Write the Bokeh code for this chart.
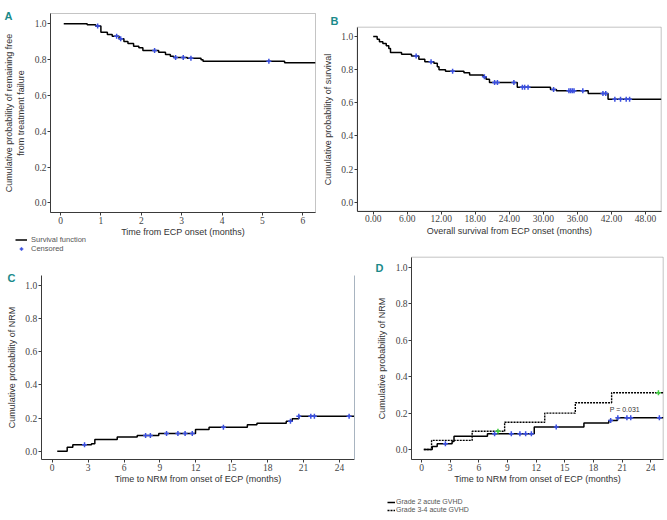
import numpy as np
from bokeh.plotting import figure
from bokeh.layouts import column, row
from bokeh.models import (FixedTicker, NumeralTickFormatter, Label, Legend,
                          LegendItem, Range1d, BoxAnnotation, LinearAxis)
from bokeh.embed import file_html
from bokeh.resources import INLINE

# ---------------- data ----------------
# Panel A: freedom from treatment failure (Kaplan-Meier)
a_time = [0.08, 0.66, 0.87, 1.00, 1.16, 1.28, 1.45, 1.57, 1.67, 1.81, 1.94, 2.04,
          2.43, 2.60, 2.72, 2.80, 3.14, 3.48, 3.53, 5.55, 6.31]
a_surv = [1.000, 0.994, 0.987, 0.953, 0.940, 0.931, 0.916, 0.901, 0.890, 0.875, 0.866,
          0.851, 0.841, 0.828, 0.819, 0.812, 0.808, 0.799, 0.791, 0.782, 0.782]
a_cens = [0.92, 1.39, 1.49, 2.33, 2.85, 3.04, 3.23, 5.16]

# Panel B: overall survival
b_time = [0.0, 0.7, 1.1, 1.7, 2.3, 2.75, 3.05, 5.0, 6.75, 8.05, 9.1, 10.7, 11.3, 11.6,
          12.75, 16.0, 17.0, 19.4, 19.9, 20.5, 25.4, 31.25, 32.3, 37.9, 41.4, 50.77]
b_surv = [1.000, 0.984, 0.968, 0.958, 0.944, 0.928, 0.903, 0.893, 0.883, 0.863, 0.847,
          0.839, 0.817, 0.799, 0.791, 0.781, 0.767, 0.757, 0.742, 0.722, 0.694, 0.680,
          0.672, 0.656, 0.622, 0.622]
b_cens = [7.57, 10.2, 14.0, 19.6, 21.4, 21.9, 24.8, 26.3, 26.7, 27.3, 31.8, 34.5, 34.8,
          35.1, 35.4, 36.95, 40.5, 41.0, 42.6, 43.6, 44.6, 45.2]

# Panel C: cumulative NRM
c_time = [0.42, 1.25, 1.72, 3.28, 3.56, 5.43, 7.1, 8.9, 11.97, 13.1, 16.3, 17.1, 19.55,
          20.05, 20.6, 25.25]
c_cum = [0.000, 0.024, 0.039, 0.045, 0.071, 0.085, 0.095, 0.107, 0.131, 0.145, 0.159,
         0.169, 0.181, 0.196, 0.211, 0.211]
c_cens = [2.7, 7.8, 8.2, 9.55, 10.5, 11.1, 11.7, 14.3, 19.9, 20.6, 21.6, 21.9, 24.8]

# Panel D: cumulative NRM by acute GVHD grade
d2_time = [0.24, 1.12, 1.64, 3.2, 3.4, 6.9, 11.8, 17.0, 19.6, 20.5, 25.3]
d2_cum = [0.000, 0.017, 0.031, 0.044, 0.073, 0.086, 0.123, 0.145, 0.160, 0.174, 0.174]
d2_cens = [2.5, 7.65, 9.4, 10.3, 10.9, 11.5, 14.1, 19.8, 20.55, 21.5, 21.9, 24.9]
d34_time = [0.24, 1.05, 5.3, 8.7, 12.9, 16.1, 19.9, 25.3]
d34_cum = [0.000, 0.050, 0.100, 0.150, 0.200, 0.257, 0.312, 0.312]
d34_cens = [8.0, 24.8]

y_ticks = [0.0, 0.2, 0.4, 0.6, 0.8, 1.0]
a_xticks = [0, 1, 2, 3, 4, 5, 6]
b_xticks = [0, 6, 12, 18, 24, 30, 36, 42, 48]
cd_xticks = [0, 3, 6, 9, 12, 15, 18, 21, 24]

# ---------------- styling ----------------
SANS = "Liberation Sans"
SERIF = "Liberation Serif"
TEAL = "#1a8a8a"
BLUE = "#3a4fe0"
GREEN = "#3ccc3c"
AXC = "#3a3a3a"


def step_at(times, vals, xs):
    t = np.asarray(times)
    v = np.asarray(vals)
    idx = np.searchsorted(t, np.asarray(xs), side="right") - 1
    return v[np.clip(idx, 0, len(v) - 1)]


def make_panel(w, h, box, dom, xticks, xfmt, xlabel, ylabel, boxed=True):
    # box: pixel edges (left, right, top, bottom) of the plotting box inside the canvas
    L, R, T, B = box
    x0, x1, y0, y1 = dom
    kx = (R - L) / (x1 - x0)
    ky = (B - T) / (y1 - y0)
    xr = Range1d(x0 - L / kx, x1 + (w - R) / kx)
    yr = Range1d(y0 - (h - B) / ky, y1 + T / ky)
    p = figure(width=w, height=h, x_range=xr, y_range=yr, min_border=0,
               output_backend="svg", toolbar_location=None)
    p.xgrid.visible = False
    p.ygrid.visible = False
    p.outline_line_color = None
    p.background_fill_color = "white"
    p.border_fill_color = "white"
    p.xaxis.ticker = FixedTicker(ticks=xticks)
    p.xaxis.formatter = NumeralTickFormatter(format=xfmt)
    p.yaxis.ticker = FixedTicker(ticks=y_ticks)
    p.yaxis.formatter = NumeralTickFormatter(format="0.0")
    p.xaxis.fixed_location = y0
    p.xaxis.bounds = (x0, x1)
    p.yaxis.fixed_location = x0
    p.yaxis.bounds = (y0, y1)
    for ax in (p.xaxis[0], p.yaxis[0]):
        ax.axis_line_color = AXC
        ax.axis_line_width = 1
        ax.major_tick_line_color = AXC
        ax.major_tick_out = 3
        ax.major_tick_in = 0
        ax.minor_tick_out = 0
        ax.minor_tick_in = 0
        ax.major_label_text_font = SERIF
        ax.major_label_text_font_size = "9.5px"
        ax.major_label_text_color = "#444444"
        ax.axis_label_text_font = SANS
        ax.axis_label_text_font_size = "9px"
        ax.axis_label_text_font_style = "normal"
        ax.axis_label_text_color = "#333333"
    p.xaxis.major_label_standoff = 1
    p.yaxis.major_label_standoff = 1
    p.xaxis.axis_label_standoff = 0
    p.yaxis.axis_label_standoff = 6
    p.xaxis.axis_label = xlabel
    p.yaxis.axis_label = ylabel
    if boxed:
        p.add_layout(BoxAnnotation(left=x0, right=x1, bottom=y0, top=y1,
                                   fill_color=None, line_color=AXC, line_width=1))
    return p


def letter(p, text, x, y):
    p.add_layout(Label(x=x, y=y, x_units="screen", y_units="screen", text=text,
                       text_font=SANS, text_font_size="11px", text_font_style="bold",
                       text_color=TEAL, text_baseline="alphabetic", text_align="left"))


def legend(p, items, loc, fs, gw, gap, ih):
    lg = Legend(items=items, location=loc, orientation="vertical",
                background_fill_alpha=0, border_line_alpha=0, padding=0, margin=0,
                spacing=0, label_text_font=SANS, label_text_font_size=fs,
                label_text_color="#555555", glyph_width=gw, glyph_height=ih,
                label_height=ih, label_standoff=gap)
    p.add_layout(lg)


# ---------------- Panel A ----------------
pA = make_panel(320, 254, (50, 315, 13, 212), (-0.248, 6.315, -0.054, 1.0575),
                a_xticks, "0", "Time from ECP onset (months)",
                "Cumulative probability of remaining free\nfrom treatment failure")
rA = pA.step(a_time, a_surv, mode="after", line_color="black", line_width=1.5)
cA = pA.scatter(a_cens, step_at(a_time, a_surv, a_cens), marker="cross", size=5,
                line_color=BLUE, line_width=1.5)
legend(pA, [LegendItem(label="Survival function", renderers=[rA]),
            LegendItem(label="Censored", renderers=[cA])], (15, 1.5), "7.5px", 12, 4, 9)
letter(pA, "A", 4, 239)

# ---------------- Panel B ----------------
pB = make_panel(347, 254, (36.7, 340.7, 26.7, 210.7), (-2.82, 50.77, -0.054, 1.056),
                b_xticks, "0.00", "Overall survival from ECP onset (months)",
                "Cumulative probability of survival")
pB.step(b_time, b_surv, mode="after", line_color="black", line_width=1.5)
pB.scatter(b_cens, step_at(b_time, b_surv, b_cens), marker="cross", size=5,
           line_color=BLUE, line_width=1.5)
letter(pB, "B", 10, 233.3)

# ---------------- Panel C ----------------
c_dom = (-0.92, 25.25, -0.052, 1.06)
pC = make_panel(362, 266, (40.7, 354, 21, 205.3), c_dom,
                cd_xticks, "0", "Time to NRM from onset of ECP (months)",
                "Cumulative probability of NRM", boxed=False)
pC.add_layout(LinearAxis(fixed_location=c_dom[1], bounds=(c_dom[2], c_dom[3]),
                         ticker=FixedTicker(ticks=[]), axis_line_color="#a8b4c0",
                         major_tick_line_color=None, minor_tick_line_color=None,
                         major_label_text_alpha=0), "right")
pC.step(c_time, c_cum, mode="after", line_color="black", line_width=1.5)
pC.scatter(c_cens, step_at(c_time, c_cum, c_cens), marker="cross", size=5,
           line_color=BLUE, line_width=1.5)
letter(pC, "C", 7, 243)

# ---------------- Panel D ----------------
pD = make_panel(305, 266, (49, 300.7, 2.7, 205), (-1.05, 25.3, -0.055, 1.057),
                cd_xticks, "0", "Time to NRM from onset of ECP (months)",
                "Cumulative probability of NRM")
r34 = pD.step(d34_time, d34_cum, mode="after", line_color="black", line_width=1.4,
              line_dash="2 1")
r2 = pD.step(d2_time, d2_cum, mode="after", line_color="black", line_width=1.5)
pD.scatter(d2_cens, step_at(d2_time, d2_cum, d2_cens), marker="cross", size=5,
           line_color=BLUE, line_width=1.5)
pD.scatter(d34_cens, step_at(d34_time, d34_cum, d34_cens), marker="cross", size=5,
           line_color=GREEN, line_width=1.5)
pD.add_layout(Label(x=19.7, y=0.222, text="P = 0.031", text_font=SANS,
                    text_font_size="7px", text_color="#333333",
                    text_baseline="middle", text_align="left"))
legend(pD, [LegendItem(label="Grade 2 acute GVHD", renderers=[r2]),
            LegendItem(label="Grade 3-4 acute GVHD", renderers=[r34])], (25, 6.5),
       "7px", 8, 1, 8)
letter(pD, "D", 13, 253)

layout = column(row(pA, pB), row(pC, pD))
open("out.html", "w").write(file_html(layout, INLINE))
